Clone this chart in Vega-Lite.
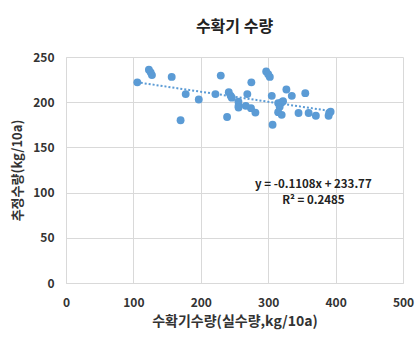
{
  "$schema": "https://vega.github.io/schema/vega-lite/v6.json",
  "width": 337,
  "height": 226,
  "autosize": {"type": "none"},
  "padding": {"left": 66, "top": 57, "right": 17, "bottom": 60},
  "background": "white",
  "config": {
    "font": "Noto Sans CJK KR",
    "view": {"stroke": null}
  },
  "title": {
    "text": "수확기 수량",
    "fontSize": 16,
    "fontWeight": "bold",
    "color": "#222222",
    "offset": 16,
    "anchor": "middle"
  },
  "datasets": {
    "pts": [
      {"x": 105.8, "y": 222}, {"x": 123, "y": 236}, {"x": 125.6, "y": 233}, {"x": 127.5, "y": 230},
      {"x": 156.8, "y": 228}, {"x": 170, "y": 180}, {"x": 177.6, "y": 209}, {"x": 197, "y": 203},
      {"x": 221.7, "y": 209}, {"x": 229.6, "y": 229.4}, {"x": 239, "y": 183.6}, {"x": 241.5, "y": 211},
      {"x": 244.4, "y": 207}, {"x": 246, "y": 205}, {"x": 255.8, "y": 200.7}, {"x": 256, "y": 196},
      {"x": 256, "y": 194}, {"x": 266.7, "y": 196}, {"x": 269, "y": 209}, {"x": 275, "y": 222},
      {"x": 274.5, "y": 193.4}, {"x": 281, "y": 188.5}, {"x": 297, "y": 234}, {"x": 300, "y": 231},
      {"x": 302.4, "y": 228}, {"x": 305.3, "y": 207}, {"x": 306.5, "y": 175}, {"x": 314.8, "y": 199},
      {"x": 317, "y": 195}, {"x": 314.8, "y": 189}, {"x": 319.7, "y": 199.6}, {"x": 322, "y": 201},
      {"x": 320, "y": 186}, {"x": 327, "y": 214}, {"x": 335, "y": 207}, {"x": 345, "y": 188},
      {"x": 355, "y": 210}, {"x": 360, "y": 188}, {"x": 370.7, "y": 185}, {"x": 389.6, "y": 185},
      {"x": 390.5, "y": 188}, {"x": 392.6, "y": 189.5}
    ],
    "trend": [
      {"x": 105, "y": 222.1}, {"x": 393, "y": 190.2}
    ],
    "labels": [
      {"x": 367, "y": 108.5, "t": "y = -0.1108x + 233.77"},
      {"x": 367, "y": 90.5, "t": "R² = 0.2485"}
    ]
  },
  "layer": [
    {
      "data": {"name": "pts"},
      "mark": {"type": "point", "filled": true, "size": 62, "color": "#5B9BD5", "opacity": 1},
      "encoding": {
        "x": {
          "field": "x", "type": "quantitative",
          "scale": {"domain": [0, 500], "nice": false},
          "axis": {
            "title": "수확기수량(실수량,kg/10a)",
            "values": [0, 100, 200, 300, 400, 500],
            "grid": true, "gridColor": "#d9d9d9",
            "domainColor": "#d9d9d9", "ticks": false,
            "labelFontSize": 12, "labelFontWeight": "bold", "labelColor": "#333333",
            "labelPadding": 14, "labelFlush": false,
            "titleFontSize": 14, "titleFontWeight": "bold", "titleColor": "#333333",
            "titlePadding": 6
          }
        },
        "y": {
          "field": "y", "type": "quantitative",
          "scale": {"domain": [0, 250], "nice": false},
          "axis": {
            "title": "추정수량(kg/10a)",
            "values": [0, 50, 100, 150, 200, 250],
            "grid": true, "gridColor": "#d9d9d9",
            "domainColor": "#d9d9d9", "ticks": false,
            "labelFontSize": 12, "labelFontWeight": "bold", "labelColor": "#333333",
            "labelPadding": 12, "labelFlush": false,
            "titleFontSize": 13, "titleFontWeight": "bold", "titleColor": "#333333",
            "titlePadding": 8
          }
        }
      }
    },
    {
      "data": {"name": "trend"},
      "mark": {"type": "line", "color": "#5B9BD5", "strokeWidth": 2, "strokeDash": [2, 2]},
      "encoding": {
        "x": {"field": "x", "type": "quantitative"},
        "y": {"field": "y", "type": "quantitative"}
      }
    },
    {
      "data": {"name": "labels"},
      "mark": {"type": "text", "fontSize": 11.5, "fontWeight": "bold", "color": "#222222", "align": "center", "baseline": "middle"},
      "encoding": {
        "x": {"field": "x", "type": "quantitative"},
        "y": {"field": "y", "type": "quantitative"},
        "text": {"field": "t"}
      }
    }
  ]
}
